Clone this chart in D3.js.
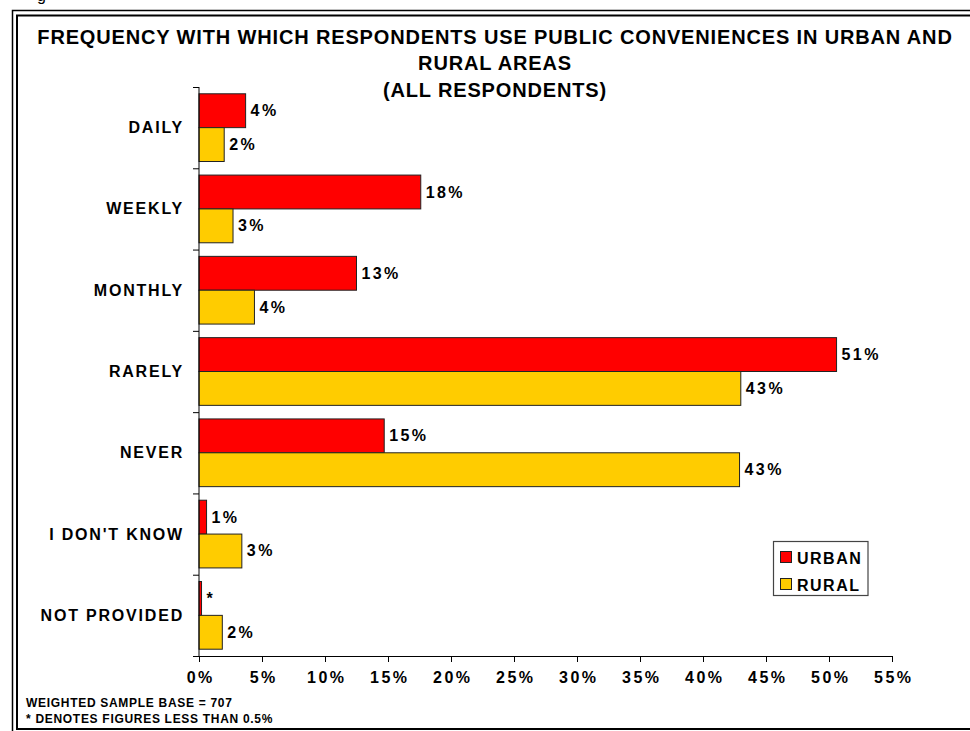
<!DOCTYPE html>
<html>
<head>
<meta charset="utf-8">
<script src="https://cdn.jsdelivr.net/npm/d3@7"></script>
<style>
    body { margin: 0; background: #fff; }
    svg { display: block; }
    svg text { font-family: "Liberation Sans", Arial, sans-serif; font-weight: bold; fill: #000; }
</style>
</head>
<body>
<div id="chart"></div>
<script>
// Chart data
const categories = ["DAILY", "WEEKLY", "MONTHLY", "RARELY", "NEVER", "I DON'T KNOW", "NOT PROVIDED"];
const urbanValues = [3.7, 17.6, 12.5, 50.6, 14.7, 0.6, 0.2];
const ruralValues = [2.0, 2.7, 4.4, 43.0, 42.9, 3.4, 1.85];
const urbanLabels = ["4%", "18%", "13%", "51%", "15%", "1%", "*"];
const ruralLabels = ["2%", "3%", "4%", "43%", "43%", "3%", "2%"];
const xTicks = [0, 5, 10, 15, 20, 25, 30, 35, 40, 45, 50, 55];
const seriesNames = ["URBAN", "RURAL"];
const titleLines = [
    "FREQUENCY WITH WHICH RESPONDENTS USE PUBLIC CONVENIENCES IN URBAN AND",
    "RURAL AREAS",
    "(ALL RESPONDENTS)"
];
const footnotes = ["WEIGHTED SAMPLE BASE = 707", "* DENOTES FIGURES LESS THAN 0.5%"];

const width = 970;
const height = 731;
const colors = ["#FF0000", "#FFCC00"];

const svg = d3.select("#chart")
              .append("svg")
              .attr("width", width)
              .attr("height", height);

// Fragment of text cut off at the top of the page
svg.append("text")
   .attr("x", 37)
   .attr("y", 1)
   .style("font-weight", "normal")
   .style("font-size", "16px")
   .text("g");

// Double frame: outer thin line, inner thicker line (right edge falls outside the picture)
svg.append("path")
   .attr("d", `M${width},10.5H12.5V${height}`)
   .attr("fill", "none").attr("stroke", "#000").attr("stroke-width", 1.5);
svg.append("path")
   .attr("d", `M${width},15.5H17V729H${width}`)
   .attr("fill", "none").attr("stroke", "#000").attr("stroke-width", 2);

// Scales
const x = d3.scaleLinear().domain([0, 55]).range([199, 892]);
const y = d3.scaleBand().domain(categories).range([87, 656]).paddingInner(0.167).paddingOuter(0.0835);
const ySeries = d3.scaleBand().domain(seriesNames).range([0, y.bandwidth()]);

// Title
svg.selectAll(".title")
   .data(titleLines)
   .enter()
   .append("text")
   .attr("class", "title")
   .attr("x", 495)
   .attr("y", (d, i) => 43.5 + i * 26.5)
   .attr("text-anchor", "middle")
   .style("font-size", "20px")
   .style("letter-spacing", "0.85px")
   .text(d => d);

// Bars
const series = [urbanValues, ruralValues];
const labels = [urbanLabels, ruralLabels];
series.forEach((values, s) => {
    svg.selectAll(".bar" + s)
       .data(values)
       .enter()
       .append("rect")
       .attr("x", x(0))
       .attr("y", (d, i) => y(categories[i]) + ySeries(seriesNames[s]))
       .attr("width", d => x(d) - x(0))
       .attr("height", ySeries.bandwidth())
       .attr("fill", colors[s])
       .attr("stroke", "#222")
       .attr("stroke-width", 1);

    svg.selectAll(".label" + s)
       .data(values)
       .enter()
       .append("text")
       .attr("x", d => x(d) + 5)
       .attr("y", (d, i) => y(categories[i]) + ySeries(seriesNames[s]) + ySeries.bandwidth() / 2 + 5.5)
       .style("font-size", "16px")
       .style("letter-spacing", "2.4px")
       .text((d, i) => labels[s][i]);
});

// Y axis: line and ticks at the band boundaries
const yAxis = d3.axisLeft(d3.scaleLinear().domain([0, categories.length]).range([87, 656]))
                .ticks(categories.length)
                .tickSize(6)
                .tickFormat("");
svg.append("g")
   .attr("transform", `translate(${x(0)},0)`)
   .call(yAxis)
   .call(g => g.select(".domain").attr("d", "M0,87V656"));

svg.selectAll(".cat")
   .data(categories)
   .enter()
   .append("text")
   .attr("class", "cat")
   .attr("x", 184)
   .attr("y", d => y(d) + y.bandwidth() / 2 + 5.5)
   .attr("text-anchor", "end")
   .style("font-size", "16px")
   .style("letter-spacing", "1.8px")
   .text(d => d);

// X axis
const xAxis = d3.axisBottom(x)
                .tickValues(xTicks)
                .tickSize(6)
                .tickSizeOuter(0)
                .tickFormat(d => d + "%");
svg.append("g")
   .attr("transform", "translate(0,656)")
   .call(xAxis)
   .call(g => g.selectAll(".tick text")
               .attr("x", 1.2)
               .attr("y", 27)
               .attr("dy", 0)
               .style("font-size", "16px")
               .style("letter-spacing", "2.4px")
               .attr("font-family", null));

svg.selectAll(".domain, .tick line").attr("stroke", "#000");

// Legend
const legend = svg.append("g");
legend.append("rect")
      .attr("x", 773.5).attr("y", 541.5)
      .attr("width", 94.5).attr("height", 54)
      .attr("fill", "#fff").attr("stroke", "#444").attr("stroke-width", 1.2);
seriesNames.forEach((name, s) => {
    legend.append("rect")
          .attr("x", 780.5).attr("y", 551.5 + s * 27)
          .attr("width", 11).attr("height", 11)
          .attr("fill", colors[s]).attr("stroke", "#222");
    legend.append("text")
          .attr("x", 797)
          .attr("y", 563.5 + s * 27)
          .style("font-size", "16px")
          .style("letter-spacing", "1.5px")
          .text(name);
});

// Footnotes
svg.selectAll(".foot")
   .data(footnotes)
   .enter()
   .append("text")
   .attr("x", 26)
   .attr("y", (d, i) => 707 + i * 16)
   .style("font-size", "12px")
   .style("letter-spacing", "0.7px")
   .text(d => d);
</script>
</body>
</html>
